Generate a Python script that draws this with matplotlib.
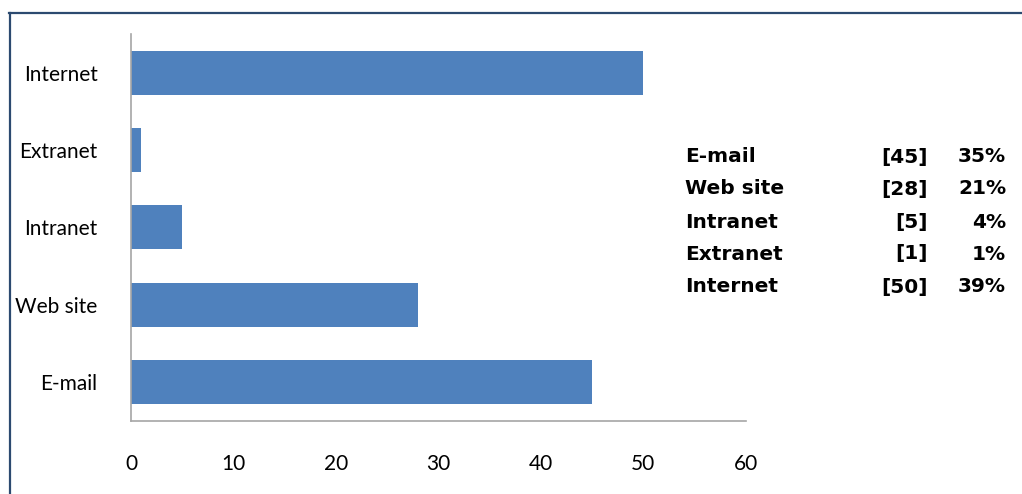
import matplotlib

matplotlib.use("Agg")
import matplotlib.pyplot as plt
from matplotlib.lines import Line2D

categories = ["E-mail", "Web site", "Intranet", "Extranet", "Internet"]
values = [45, 28, 5, 1, 50]
percents = ["35%", "21%", "4%", "1%", "39%"]
xticks = [0, 10, 20, 30, 40, 50, 60]

W, H = 1022, 494
fig = plt.figure(figsize=(W / 100, H / 100), dpi=100)
ax = fig.add_axes([131 / W, 1 - 420.5 / H, (745.5 - 131) / W, (420.5 - 34) / H])

ax.barh(range(len(categories)), values, height=0.57, color="#4F81BD")
ax.set_xlim(0, 60)
ax.set_ylim(-0.5, len(categories) - 0.5)
ax.set_xticks(xticks)
ax.set_yticks(range(len(categories)))
ax.set_yticklabels(categories)
ax.tick_params(axis="x", length=0, pad=24, labelsize=15)
ax.tick_params(axis="y", length=0, pad=24, labelsize=15)
for lab in ax.get_xticklabels() + ax.get_yticklabels():
    lab.set_fontfamily("Lato")
for s in ("top", "right"):
    ax.spines[s].set_visible(False)
for s in ("left", "bottom"):
    ax.spines[s].set_color("#a6a6a6")
    ax.spines[s].set_linewidth(1.2)

# side table
row_y = [157, 189, 222, 254, 287]
for cat, v, p, y in zip(categories, values, percents, row_y):
    fy = 1 - y / H
    kw = dict(fontsize=14.5, fontweight="heavy", family="DejaVu Sans", va="center",
              transform=fig.transFigure)
    fig.text(685 / W, fy, cat, ha="left", **kw)
    fig.text(928 / W, fy, f"[{v}]", ha="right", **kw)
    fig.text(1006 / W, fy, p, ha="right", **kw)

# frame lines
fig.add_artist(Line2D([9.5 / W, 9.5 / W], [0, 1 - 13 / H], transform=fig.transFigure,
                      color="#2c4a70", linewidth=1.6))
fig.add_artist(Line2D([9 / W, 1], [1 - 13 / H, 1 - 13 / H], transform=fig.transFigure,
                      color="#2c4a70", linewidth=1.6))

fig.savefig("out.png", dpi=100)
